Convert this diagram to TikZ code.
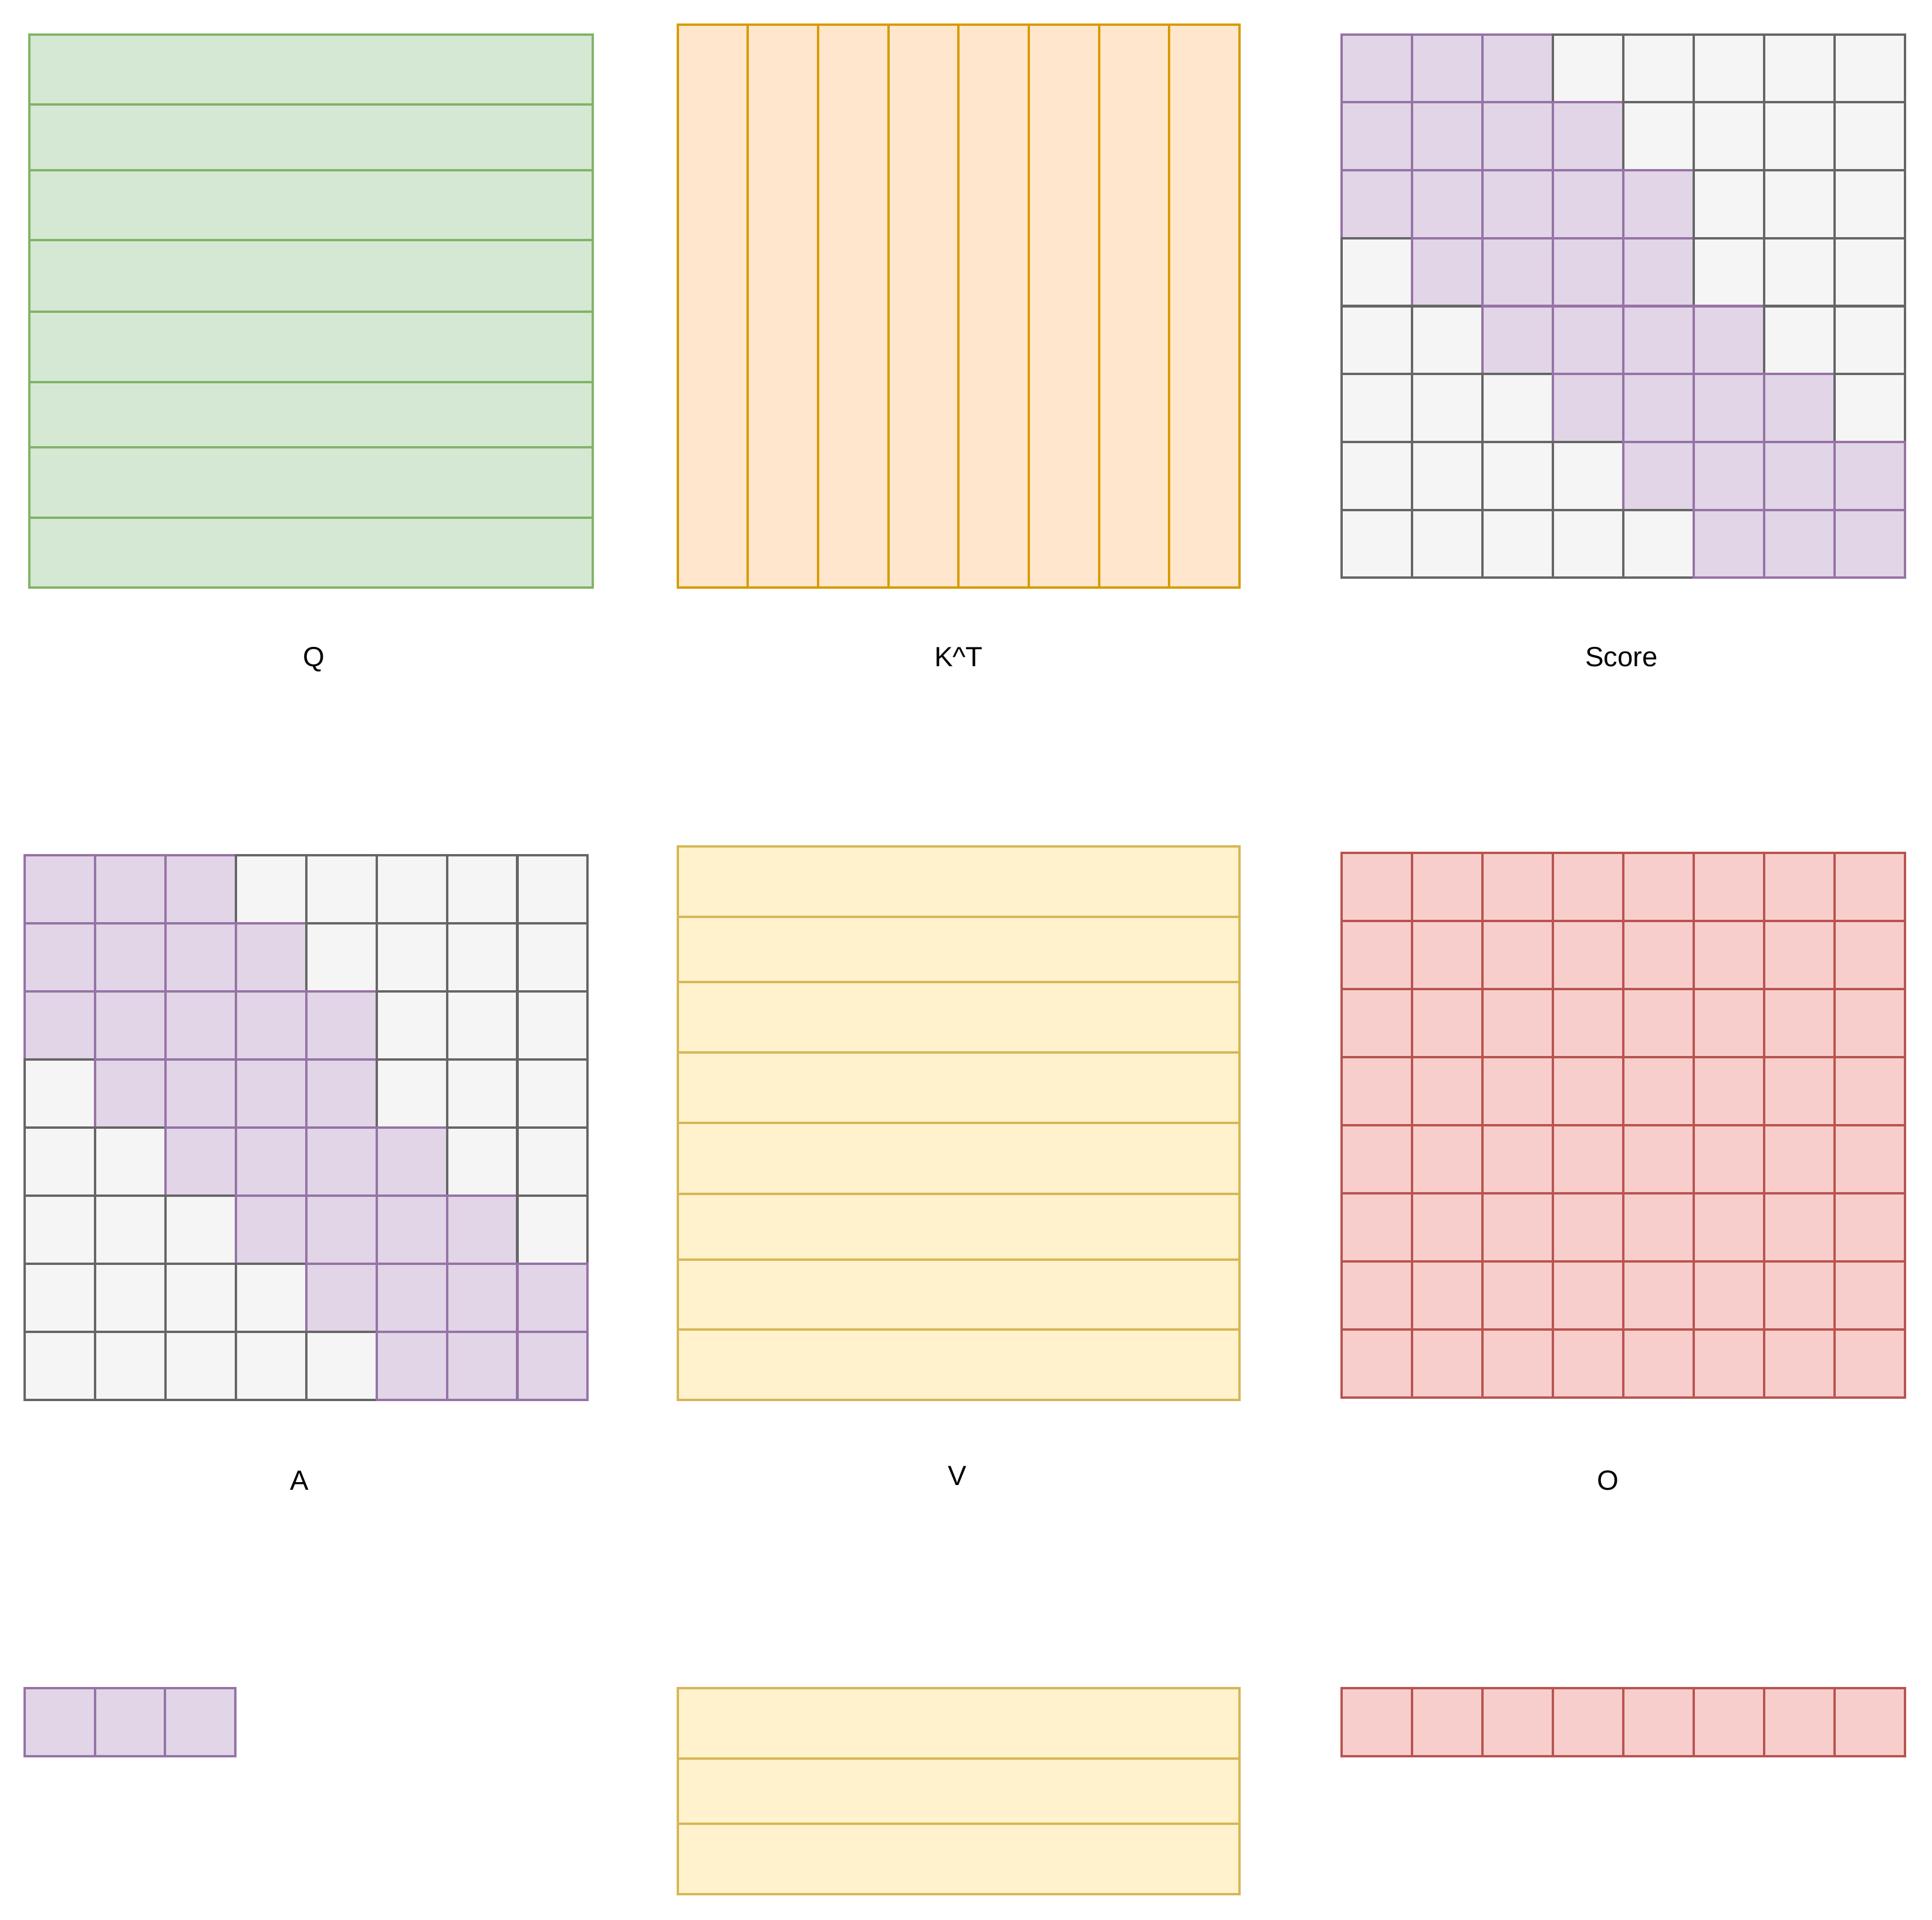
\documentclass[tikz,border=0pt]{standalone}
\usepackage{fontspec}
\setmainfont{Liberation Sans}
\usetikzlibrary{positioning}

\definecolor{groenvul}{HTML}{D5E8D4}
\definecolor{groenlijn}{HTML}{82B366}
\definecolor{oranjevul}{HTML}{FFE6CC}
\definecolor{oranjelijn}{HTML}{D79B00}
\definecolor{paarsvul}{HTML}{E1D5E7}
\definecolor{paarslijn}{HTML}{9673A6}
\definecolor{grijsvul}{HTML}{F5F5F5}
\definecolor{grijslijn}{HTML}{666666}
\definecolor{geelvul}{HTML}{FFF2CC}
\definecolor{geellijn}{HTML}{D6B656}
\definecolor{roodvul}{HTML}{F8CECC}
\definecolor{roodlijn}{HTML}{B85450}

\tikzset{
  qcel/.style={fill=groenvul, draw=groenlijn},
  kcel/.style={fill=oranjevul, draw=oranjelijn},
  mask/.style={fill=paarsvul, draw=paarslijn},
  leeg/.style={fill=grijsvul, draw=grijslijn},
  vcel/.style={fill=geelvul, draw=geellijn},
  ocel/.style={fill=roodvul, draw=roodlijn},
  naam/.style={font=\fontsize{6.4}{7.7}\selectfont, inner sep=0pt, text height=4.6pt, text depth=0pt}
}

\begin{document}
\begin{tikzpicture}[x=0.01cm, y=-0.01cm, line width=0.55pt]
        \useasboundingbox (0,0) rectangle (1568,1558);

        % Q (rijen)
        \foreach \ya/\yb in {28/85,85/138,138/195,195/253,253/310,310/363,363/420,420/477}
            \draw[qcel] (24,\ya) rectangle (481,\yb);
        \node[naam] (labelq) at (255,533) {Q};

        % K^T (kolommen)
        \foreach \xa/\xb in {550/607,607/664,664/721,721/778,778/835,835/892,892/949,949/1006}
            \draw[kcel] (\xa,20) rectangle (\xb,477);
        \node[naam] (labelk) at (778,533) {K\textasciicircum T};

        % Score en A (masker per rij)
        \foreach \gx/\gy/\gh in {1089/28/55.1, 20/694/55.25}
          \foreach \r/\lo/\hi in {0/0/2,1/0/3,2/0/4,3/1/4,4/2/5,5/3/6,6/4/7,7/5/7}
            \foreach \c in {0,...,7}{
              \ifnum\c<\lo \def\soort{leeg}\else\ifnum\c>\hi \def\soort{leeg}\else\def\soort{mask}\fi\fi
              \draw[\soort] ({\gx+\c*57.125},{\gy+\r*\gh}) rectangle ++(57.125,\gh);
            }
        \node[naam] (labelscore) at (1316,533) {Score};
        \node[naam] (labela) at (243,1201) {A};

        % V (rijen)
        \foreach \ya/\yb in {687/744,744/797,797/854,854/911,911/969,969/1022,1022/1079,1079/1136}
            \draw[vcel] (550,\ya) rectangle (1006,\yb);
        \node[naam] (labelv) at (777,1197) {V};

        % O
        \foreach \r in {0,...,7}
          \foreach \c in {0,...,7}
            \draw[ocel] ({1089+\c*57.125},{692+\r*55.25}) rectangle ++(57.125,55.25);
        \node[naam] (labelo) at (1305,1201) {O};

        % Onderste rij: stukje A, V en O
        \foreach \c in {0,1,2}
            \draw[mask] ({20+\c*57},1370) rectangle ++(57,55);
        \foreach \ya/\yb in {1370/1427,1427/1480,1480/1537}
            \draw[vcel] (550,\ya) rectangle (1006,\yb);
        \foreach \c in {0,...,7}
            \draw[ocel] ({1089+\c*57.125},1370) rectangle ++(57.125,55);

\end{tikzpicture}
\end{document}
